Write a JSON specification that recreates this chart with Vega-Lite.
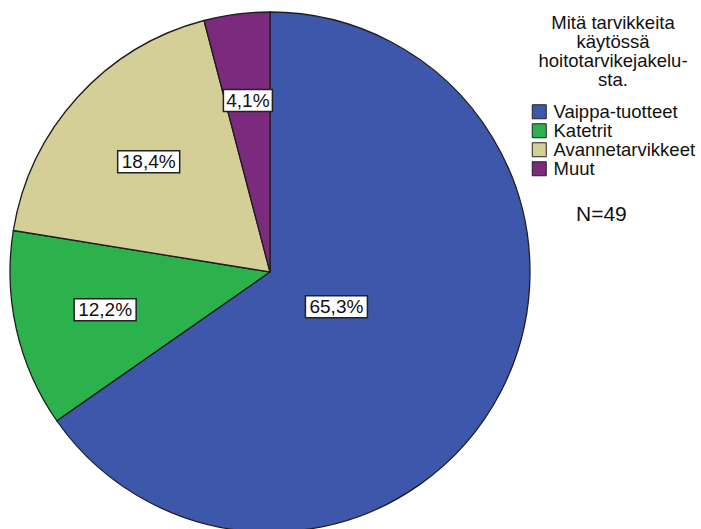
{
  "$schema": "https://vega.github.io/schema/vega-lite/v6.json",
  "width": 540,
  "height": 544,
  "padding": 0,
  "autosize": {"type": "pad"},
  "background": "white",
  "config": {"view": {"stroke": null}, "font": "Liberation Sans"},
  "title": {
    "text": "N=49",
    "orient": "bottom",
    "anchor": "start",
    "frame": "group",
    "offset": 0,
    "dx": 576,
    "dy": -340,
    "baseline": "top",
    "font": "Liberation Sans",
    "fontSize": 21,
    "fontWeight": "normal",
    "color": "#111"
  },
  "data": {
    "values": [
      {"category": "Vaippa-tuotteet", "count": 32, "idx": 1},
      {"category": "Katetrit", "count": 6, "idx": 2},
      {"category": "Avannetarvikkeet", "count": 9, "idx": 3},
      {"category": "Muut", "count": 2, "idx": 4}
    ]
  },
  "layer": [
    {
      "mark": {"type": "arc", "outerRadius": 260, "stroke": "#1e1e1e", "strokeWidth": 1.3},
      "encoding": {
        "theta": {"field": "count", "type": "quantitative", "stack": true},
        "order": {"field": "idx", "type": "quantitative"},
        "color": {
          "field": "category",
          "type": "nominal",
          "scale": {
            "domain": ["Vaippa-tuotteet", "Katetrit", "Avannetarvikkeet", "Muut"],
            "range": ["#3d58ab", "#2bb24c", "#d4ce97", "#7b2a7d"]
          },
          "legend": {
            "title": ["Mitä tarvikkeita", "käytössä", "hoitotarvikejakelu-", "sta."],
            "orient": "none",
            "legendX": 530,
            "legendY": 14,
            "padding": 0,
            "titleFont": "Liberation Sans",
            "titleFontSize": 18.5,
            "titleFontWeight": "normal",
            "titleColor": "#111",
            "titleLineHeight": 19,
            "titleAlign": "center",
            "titleAnchor": "middle",
            "titlePadding": 13,
            "labelFont": "Liberation Sans",
            "labelFontSize": 18.5,
            "labelColor": "#111",
            "labelOffset": 5,
            "rowPadding": 0,
            "symbolType": "square",
            "symbolSize": 196,
            "symbolStrokeColor": "#222",
            "symbolStrokeWidth": 1,
            "symbolOpacity": 1
          }
        }
      }
    },
    {
      "transform": [
        {"window": [{"op": "sum", "field": "count", "as": "cum"}], "sort": [{"field": "idx"}], "frame": [null, 0]},
        {"joinaggregate": [{"op": "sum", "field": "count", "as": "total"}]},
        {"calculate": "datum.count / datum.total", "as": "frac"},
        {"calculate": "2 * PI * (datum.cum - datum.count / 2) / datum.total", "as": "mid"},
        {"calculate": "2 * 260 * sin(PI * datum.frac) / (3 * PI * datum.frac)", "as": "rc"},
        {"calculate": "datum.rc * sin(datum.mid)", "as": "lx"},
        {"calculate": "datum.rc * cos(datum.mid)", "as": "ly"},
        {"calculate": "replace(format(datum.frac, '.1%'), '.', ',')", "as": "label"},
        {"calculate": "length(datum.label) * 6.5 - 1.5", "as": "hw"},
        {"calculate": "datum.lx - datum.hw", "as": "bx1"},
        {"calculate": "datum.lx + datum.hw", "as": "bx2"},
        {"calculate": "datum.ly - 11", "as": "by1"},
        {"calculate": "datum.ly + 11", "as": "by2"}
      ],
      "layer": [
        {
          "mark": {"type": "rect", "fill": "white", "stroke": "#222", "strokeWidth": 1.5},
          "encoding": {
            "x": {"field": "bx1", "type": "quantitative", "scale": {"domain": [-270, 270], "nice": false, "zero": false}, "axis": null},
            "x2": {"field": "bx2"},
            "y": {"field": "by1", "type": "quantitative", "scale": {"domain": [-272, 272], "nice": false, "zero": false}, "axis": null},
            "y2": {"field": "by2"}
          }
        },
        {
          "mark": {"type": "text", "font": "Liberation Sans", "fontSize": 19, "align": "center", "baseline": "middle", "color": "#111"},
          "encoding": {
            "x": {"field": "lx", "type": "quantitative"},
            "y": {"field": "ly", "type": "quantitative"},
            "text": {"field": "label", "type": "nominal"}
          }
        }
      ]
    }
  ]
}
